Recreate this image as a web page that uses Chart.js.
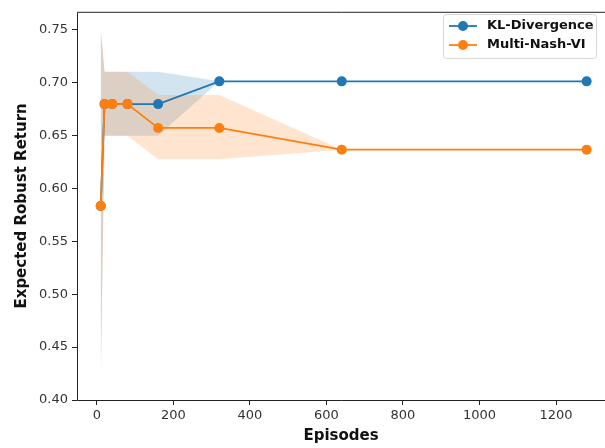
<!DOCTYPE html>
<html>
<head>
<meta charset="utf-8">
<script src="https://cdn.jsdelivr.net/npm/chart.js@4.4.0/dist/chart.umd.min.js"></script>
<style>
  html, body { margin: 0; padding: 0; background: #fff; }
</style>
</head>
<body>
<canvas id="chart" width="605" height="448"></canvas>
<script>
// data
const episodes = [10, 20, 40, 80, 160, 320, 640, 1280];

const klMean = [0.5833, 0.6795, 0.6795, 0.6795, 0.6795, 0.7010, 0.7010, 0.7010];
const klLow  = [0.4167, 0.6495, 0.6495, 0.6495, 0.6495, 0.7010, 0.7010, 0.7010];
const klHigh = [0.7500, 0.7100, 0.7100, 0.7100, 0.7100, 0.7010, 0.7010, 0.7010];

const nashMean = [0.5833, 0.6795, 0.6795, 0.6795, 0.6570, 0.6570, 0.6365, 0.6365];
const nashLow  = [0.4167, 0.6495, 0.6495, 0.6495, 0.6275, 0.6275, 0.6365, 0.6365];
const nashHigh = [0.7500, 0.7100, 0.7100, 0.7100, 0.6880, 0.6880, 0.6365, 0.6365];

const seriesNames = ['KL-Divergence', 'Multi-Nash-VI'];
const xTicks = [0, 200, 400, 600, 800, 1000, 1200];
const yTicks = [0.40, 0.45, 0.50, 0.55, 0.60, 0.65, 0.70, 0.75];

const blue = '#1f77b4';
const orange = '#ff7f0e';

// pair episodes with values
function pts(values) {
    return episodes.map((x, i) => ({ x: x, y: values[i] }));
}

// band datasets (upper / lower, lower fills to upper)
function band(high, low, color, upperIndex, order) {
    return [
        { data: pts(high), borderWidth: 0, pointRadius: 0, fill: false, order: order },
        { data: pts(low), borderWidth: 0, pointRadius: 0, fill: upperIndex, backgroundColor: color, order: order }
    ];
}

const datasets = [
    {
        label: seriesNames[0],
        data: pts(klMean),
        borderColor: blue,
        backgroundColor: blue,
        pointBackgroundColor: blue,
        pointBorderWidth: 0,
        pointRadius: 5,
        borderWidth: 1.8,
        fill: false,
        order: 1
    },
    {
        label: seriesNames[1],
        data: pts(nashMean),
        borderColor: orange,
        backgroundColor: orange,
        pointBackgroundColor: orange,
        pointBorderWidth: 0,
        pointRadius: 5,
        borderWidth: 1.8,
        fill: false,
        order: 0
    },
    ...band(klHigh, klLow, 'rgba(31,119,180,0.2)', 2, 3),
    ...band(nashHigh, nashLow, 'rgba(255,127,14,0.2)', 4, 2)
];

// axes frame (right side is cut off in the reference)
const framePlugin = {
    id: 'frame',
    afterDraw(chart) {
        const a = chart.chartArea;
        const ctx = chart.ctx;
        ctx.save();
        ctx.strokeStyle = '#222';
        ctx.lineWidth = 1;
        ctx.beginPath();
        ctx.moveTo(a.right + 2, a.top + 0.5);
        ctx.lineTo(a.left + 0.5, a.top + 0.5);
        ctx.lineTo(a.left + 0.5, a.bottom + 0.5);
        ctx.lineTo(a.right + 2, a.bottom + 0.5);
        ctx.stroke();
        ctx.restore();
    }
};

// matplotlib style legend box in the upper right
const legendPlugin = {
    id: 'mplLegend',
    afterDraw(chart) {
        const ctx = chart.ctx;
        const x0 = 443, y0 = 14, w = 153, h = 44;
        ctx.save();
        ctx.fillStyle = 'rgba(255,255,255,0.85)';
        ctx.strokeStyle = '#d6d6d6';
        ctx.lineWidth = 1;
        ctx.beginPath();
        ctx.roundRect(x0 + 0.5, y0 + 0.5, w, h, 3);
        ctx.fill();
        ctx.stroke();
        const colors = [blue, orange];
        seriesNames.forEach((name, i) => {
            const y = y0 + 12 + i * 19;
            ctx.strokeStyle = colors[i];
            ctx.lineWidth = 1.8;
            ctx.beginPath();
            ctx.moveTo(449, y);
            ctx.lineTo(477, y);
            ctx.stroke();
            ctx.fillStyle = colors[i];
            ctx.beginPath();
            ctx.arc(463, y, 5, 0, Math.PI * 2);
            ctx.fill();
            ctx.fillStyle = '#111';
            ctx.font = 'bold 13px "DejaVu Sans"';
            ctx.textBaseline = 'middle';
            ctx.fillText(name, 487, y);
        });
        ctx.restore();
    }
};

const ctx = document.getElementById('chart').getContext('2d');
new Chart(ctx, {
    type: 'line',
    data: { datasets: datasets },
    options: {
        responsive: false,
        animation: false,
        layout: { autoPadding: false, padding: { top: 7, right: 0, left: 0, bottom: 0 } },
        plugins: {
            legend: { display: false },
            tooltip: { enabled: false }
        },
        scales: {
            x: {
                type: 'linear',
                min: -52,
                max: 1328,
                afterBuildTicks: (scale) => { scale.ticks = xTicks.map(v => ({ value: v })); },
                afterFit: (scale) => { scale.height = 48; },
                grid: { drawOnChartArea: false, drawTicks: true, tickLength: 5, color: '#222' },
                border: { display: false },
                ticks: {
                    color: '#333',
                    padding: 3,
                    font: { family: 'DejaVu Sans', size: 13 },
                    maxRotation: 0,
                    callback: (v) => String(v)
                },
                title: {
                    display: true,
                    text: 'Episodes',
                    color: '#111',
                    font: { family: 'DejaVu Sans', size: 15, weight: 'bold' },
                    padding: { top: 0, bottom: 3 }
                }
            },
            y: {
                type: 'linear',
                min: 0.4,
                max: 0.7667,
                afterBuildTicks: (scale) => { scale.ticks = yTicks.map(v => ({ value: v })); },
                afterFit: (scale) => { scale.width = 77; },
                grid: { drawOnChartArea: false, drawTicks: true, tickLength: 5, color: '#222' },
                border: { display: false },
                ticks: {
                    color: '#333',
                    padding: 4,
                    font: { family: 'DejaVu Sans', size: 13 },
                    callback: (v) => v.toFixed(2)
                },
                title: {
                    display: true,
                    text: 'Expected Robust Return',
                    color: '#111',
                    font: { family: 'DejaVu Sans', size: 15, weight: 'bold' },
                    padding: { top: 13, bottom: 0 }
                }
            }
        }
    },
    plugins: [framePlugin, legendPlugin]
});
</script>
</body>
</html>
